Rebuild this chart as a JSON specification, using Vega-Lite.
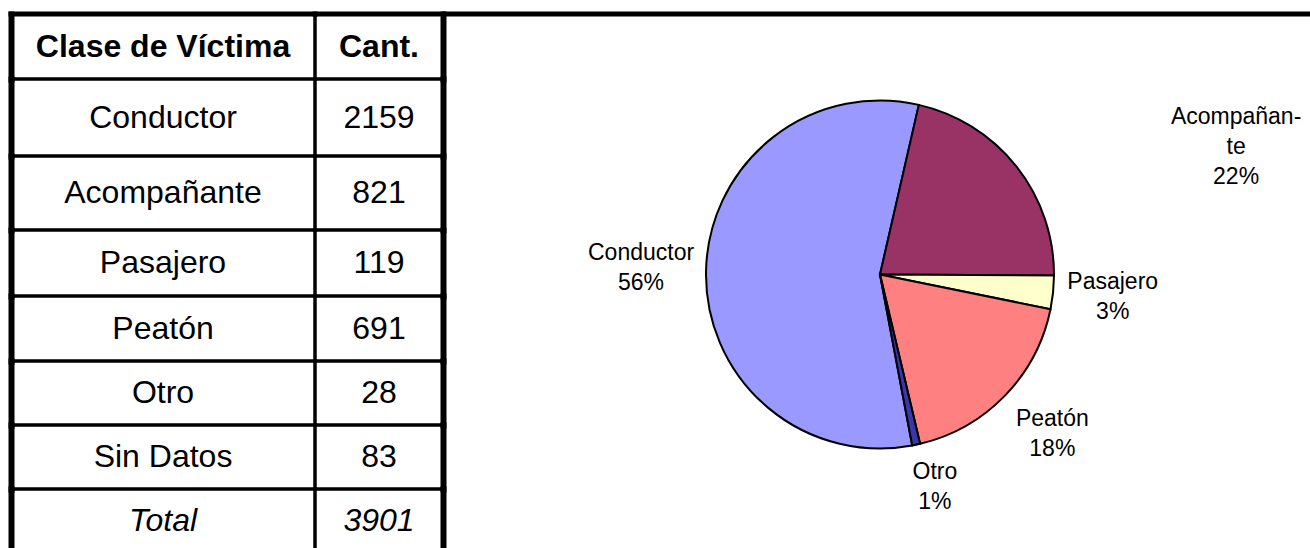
{
  "$schema": "https://vega.github.io/schema/vega-lite/v6.json",
  "background": "white",
  "padding": {"left": 5, "top": 8, "right": 0, "bottom": 0},
  "spacing": 304,
  "bounds": "flush",
  "config": {
    "view": {"stroke": null},
    "text": {"font": "Liberation Sans", "color": "black"},
    "axis": {"labels": false, "ticks": false, "grid": false, "domainColor": "black", "domainCap": "square"}
  },
  "datasets": {
    "victimas": [
      {"clase": "Conductor", "cant": 2159, "orden": 1, "etiqueta": "Conductor\n56%"},
      {"clase": "Acompañante", "cant": 821, "orden": 2, "etiqueta": "Acompañan-\nte\n22%"},
      {"clase": "Pasajero", "cant": 119, "orden": 3, "etiqueta": "Pasajero\n3%"},
      {"clase": "Peatón", "cant": 691, "orden": 4, "etiqueta": "Peatón\n18%"},
      {"clase": "Otro", "cant": 28, "orden": 5, "etiqueta": "Otro\n1%"},
      {"clase": "Sin Datos", "cant": 83, "orden": 6, "etiqueta": ""},
      {"clase": "Total", "cant": 3901, "orden": 7, "etiqueta": ""}
    ]
  },
  "hconcat": [
    {
      "spacing": 0,
      "bounds": "flush",
      "vconcat": [
        {
          "width": 304, "height": 65,
          "view": {"stroke": "black", "strokeWidth": 3},
          "data": {"values": [{"encabezado": "Clase de Víctima"}]},
          "layer": [
            {
              "mark": {"type": "rule", "color": "black", "strokeWidth": 5, "strokeCap": "square"},
              "encoding": {"y": {"field": "encabezado", "type": "nominal", "bandPosition": 0, "title": null, "scale": {"type": "band", "paddingInner": 0, "paddingOuter": 0}, "axis": {"orient": "left", "domainWidth": 6}}}
            },
            {
              "mark": {"type": "text", "fontSize": 32, "fontWeight": "bold"},
              "encoding": {"y": {"field": "encabezado", "type": "nominal", "title": null}, "text": {"field": "encabezado"}}
            }
          ]
        },
        {
          "width": 304, "height": 77,
          "view": {"stroke": "black", "strokeWidth": 3},
          "data": {"name": "victimas"},
          "transform": [{"filter": "datum.clase === 'Conductor'"}],
          "mark": {"type": "text", "fontSize": 32},
          "encoding": {"y": {"field": "clase", "type": "nominal", "title": null, "scale": {"type": "band", "paddingInner": 0, "paddingOuter": 0}, "axis": {"orient": "left", "domainWidth": 6}}, "text": {"field": "clase"}}
        },
        {
          "width": 304, "height": 74,
          "view": {"stroke": "black", "strokeWidth": 3},
          "data": {"name": "victimas"},
          "transform": [{"filter": "datum.clase === 'Acompañante'"}],
          "mark": {"type": "text", "fontSize": 32},
          "encoding": {"y": {"field": "clase", "type": "nominal", "title": null, "scale": {"type": "band", "paddingInner": 0, "paddingOuter": 0}, "axis": {"orient": "left", "domainWidth": 6}}, "text": {"field": "clase"}}
        },
        {
          "width": 304, "height": 66,
          "view": {"stroke": "black", "strokeWidth": 3},
          "data": {"name": "victimas"},
          "transform": [{"filter": "datum.clase === 'Pasajero'"}],
          "mark": {"type": "text", "fontSize": 32},
          "encoding": {"y": {"field": "clase", "type": "nominal", "title": null, "scale": {"type": "band", "paddingInner": 0, "paddingOuter": 0}, "axis": {"orient": "left", "domainWidth": 6}}, "text": {"field": "clase"}}
        },
        {
          "width": 304, "height": 65,
          "view": {"stroke": "black", "strokeWidth": 3},
          "data": {"name": "victimas"},
          "transform": [{"filter": "datum.clase === 'Peatón'"}],
          "mark": {"type": "text", "fontSize": 32},
          "encoding": {"y": {"field": "clase", "type": "nominal", "title": null, "scale": {"type": "band", "paddingInner": 0, "paddingOuter": 0}, "axis": {"orient": "left", "domainWidth": 6}}, "text": {"field": "clase"}}
        },
        {
          "width": 304, "height": 64,
          "view": {"stroke": "black", "strokeWidth": 3},
          "data": {"name": "victimas"},
          "transform": [{"filter": "datum.clase === 'Otro'"}],
          "mark": {"type": "text", "fontSize": 32},
          "encoding": {"y": {"field": "clase", "type": "nominal", "title": null, "scale": {"type": "band", "paddingInner": 0, "paddingOuter": 0}, "axis": {"orient": "left", "domainWidth": 6}}, "text": {"field": "clase"}}
        },
        {
          "width": 304, "height": 64,
          "view": {"stroke": "black", "strokeWidth": 3},
          "data": {"name": "victimas"},
          "transform": [{"filter": "datum.clase === 'Sin Datos'"}],
          "mark": {"type": "text", "fontSize": 32},
          "encoding": {"y": {"field": "clase", "type": "nominal", "title": null, "scale": {"type": "band", "paddingInner": 0, "paddingOuter": 0}, "axis": {"orient": "left", "domainWidth": 6}}, "text": {"field": "clase"}}
        },
        {
          "width": 304, "height": 64,
          "view": {"stroke": "black", "strokeWidth": 3},
          "data": {"name": "victimas"},
          "transform": [{"filter": "datum.clase === 'Total'"}],
          "mark": {"type": "text", "fontSize": 32, "fontStyle": "italic"},
          "encoding": {"y": {"field": "clase", "type": "nominal", "title": null, "scale": {"type": "band", "paddingInner": 0, "paddingOuter": 0}, "axis": {"orient": "left", "domainWidth": 6}}, "text": {"field": "clase"}}
        }
      ]
    },
    {
      "spacing": 128,
      "bounds": "flush",
      "hconcat": [
        {
          "spacing": 0,
          "bounds": "flush",
          "vconcat": [
            {
              "width": 128, "height": 65,
              "view": {"stroke": "black", "strokeWidth": 3},
              "data": {"values": [{"encabezado": "Cant."}]},
              "layer": [
                {
                  "mark": {"type": "rule", "color": "black", "strokeWidth": 5, "strokeCap": "square"},
                  "encoding": {"y": {"field": "encabezado", "type": "nominal", "bandPosition": 0, "title": null, "scale": {"type": "band", "paddingInner": 0, "paddingOuter": 0}, "axis": {"orient": "right", "domainWidth": 6}}}
                },
                {
                  "mark": {"type": "text", "fontSize": 32, "fontWeight": "bold"},
                  "encoding": {"y": {"field": "encabezado", "type": "nominal", "title": null}, "text": {"field": "encabezado"}}
                }
              ]
            },
            {
              "width": 128, "height": 77,
              "view": {"stroke": "black", "strokeWidth": 3},
              "data": {"name": "victimas"},
              "transform": [{"filter": "datum.clase === 'Conductor'"}],
              "mark": {"type": "text", "fontSize": 32},
              "encoding": {"y": {"field": "clase", "type": "nominal", "title": null, "scale": {"type": "band", "paddingInner": 0, "paddingOuter": 0}, "axis": {"orient": "right", "domainWidth": 6}}, "text": {"field": "cant", "type": "quantitative", "format": "d"}}
            },
            {
              "width": 128, "height": 74,
              "view": {"stroke": "black", "strokeWidth": 3},
              "data": {"name": "victimas"},
              "transform": [{"filter": "datum.clase === 'Acompañante'"}],
              "mark": {"type": "text", "fontSize": 32},
              "encoding": {"y": {"field": "clase", "type": "nominal", "title": null, "scale": {"type": "band", "paddingInner": 0, "paddingOuter": 0}, "axis": {"orient": "right", "domainWidth": 6}}, "text": {"field": "cant", "type": "quantitative", "format": "d"}}
            },
            {
              "width": 128, "height": 66,
              "view": {"stroke": "black", "strokeWidth": 3},
              "data": {"name": "victimas"},
              "transform": [{"filter": "datum.clase === 'Pasajero'"}],
              "mark": {"type": "text", "fontSize": 32},
              "encoding": {"y": {"field": "clase", "type": "nominal", "title": null, "scale": {"type": "band", "paddingInner": 0, "paddingOuter": 0}, "axis": {"orient": "right", "domainWidth": 6}}, "text": {"field": "cant", "type": "quantitative", "format": "d"}}
            },
            {
              "width": 128, "height": 65,
              "view": {"stroke": "black", "strokeWidth": 3},
              "data": {"name": "victimas"},
              "transform": [{"filter": "datum.clase === 'Peatón'"}],
              "mark": {"type": "text", "fontSize": 32},
              "encoding": {"y": {"field": "clase", "type": "nominal", "title": null, "scale": {"type": "band", "paddingInner": 0, "paddingOuter": 0}, "axis": {"orient": "right", "domainWidth": 6}}, "text": {"field": "cant", "type": "quantitative", "format": "d"}}
            },
            {
              "width": 128, "height": 64,
              "view": {"stroke": "black", "strokeWidth": 3},
              "data": {"name": "victimas"},
              "transform": [{"filter": "datum.clase === 'Otro'"}],
              "mark": {"type": "text", "fontSize": 32},
              "encoding": {"y": {"field": "clase", "type": "nominal", "title": null, "scale": {"type": "band", "paddingInner": 0, "paddingOuter": 0}, "axis": {"orient": "right", "domainWidth": 6}}, "text": {"field": "cant", "type": "quantitative", "format": "d"}}
            },
            {
              "width": 128, "height": 64,
              "view": {"stroke": "black", "strokeWidth": 3},
              "data": {"name": "victimas"},
              "transform": [{"filter": "datum.clase === 'Sin Datos'"}],
              "mark": {"type": "text", "fontSize": 32},
              "encoding": {"y": {"field": "clase", "type": "nominal", "title": null, "scale": {"type": "band", "paddingInner": 0, "paddingOuter": 0}, "axis": {"orient": "right", "domainWidth": 6}}, "text": {"field": "cant", "type": "quantitative", "format": "d"}}
            },
            {
              "width": 128, "height": 64,
              "view": {"stroke": "black", "strokeWidth": 3},
              "data": {"name": "victimas"},
              "transform": [{"filter": "datum.clase === 'Total'"}],
              "mark": {"type": "text", "fontSize": 32, "fontStyle": "italic"},
              "encoding": {"y": {"field": "clase", "type": "nominal", "title": null, "scale": {"type": "band", "paddingInner": 0, "paddingOuter": 0}, "axis": {"orient": "right", "domainWidth": 6}}, "text": {"field": "cant", "type": "quantitative", "format": "d"}}
            }
          ]
        },
        {
          "width": 874,
          "height": 521,
          "view": {"stroke": "black", "strokeWidth": 5, "strokeDash": [874, 100000]},
          "data": {"name": "victimas"},
          "transform": [{"filter": {"field": "clase", "oneOf": ["Conductor", "Acompañante", "Pasajero", "Peatón", "Otro"]}}],
          "encoding": {
            "theta": {"field": "cant", "type": "quantitative", "stack": true, "scale": {"range": [2.9552, 9.2384]}},
            "order": {"field": "orden", "type": "quantitative"}
          },
          "layer": [
            {
              "mark": {"type": "arc", "radius": 174, "stroke": "black", "strokeWidth": 2},
              "encoding": {
                "color": {
                  "field": "clase", "type": "nominal", "legend": null,
                  "scale": {"domain": ["Conductor", "Acompañante", "Pasajero", "Peatón", "Otro"], "range": ["#9999FF", "#993366", "#FFFFCC", "#FF8080", "#3838A8"]}
                }
              }
            },
            {
              "mark": {"type": "text", "radius": 240, "dx": 1, "dy": -17, "fontSize": 23, "lineBreak": "\n", "lineHeight": 30},
              "encoding": {"text": {"condition": {"test": "datum.clase !== 'Conductor'", "value": ""}, "field": "etiqueta"}}
            },
            {
              "mark": {"type": "text", "radius": 240, "dx": 168, "dy": -8, "fontSize": 23, "lineBreak": "\n", "lineHeight": 30},
              "encoding": {"text": {"condition": {"test": "datum.clase !== 'Acompañante'", "value": ""}, "field": "etiqueta"}}
            },
            {
              "mark": {"type": "text", "radius": 240, "dx": -6, "dy": -17, "fontSize": 23, "lineBreak": "\n", "lineHeight": 30},
              "encoding": {"text": {"condition": {"test": "datum.clase !== 'Pasajero'", "value": ""}, "field": "etiqueta"}}
            },
            {
              "mark": {"type": "text", "radius": 240, "dx": 0, "dy": -23, "fontSize": 23, "lineBreak": "\n", "lineHeight": 30},
              "encoding": {"text": {"condition": {"test": "datum.clase !== 'Peatón'", "value": ""}, "field": "etiqueta"}}
            },
            {
              "mark": {"type": "text", "radius": 240, "dx": 5, "dy": -37, "fontSize": 23, "lineBreak": "\n", "lineHeight": 30},
              "encoding": {"text": {"condition": {"test": "datum.clase !== 'Otro'", "value": ""}, "field": "etiqueta"}}
            }
          ]
        }
      ]
    }
  ]
}
